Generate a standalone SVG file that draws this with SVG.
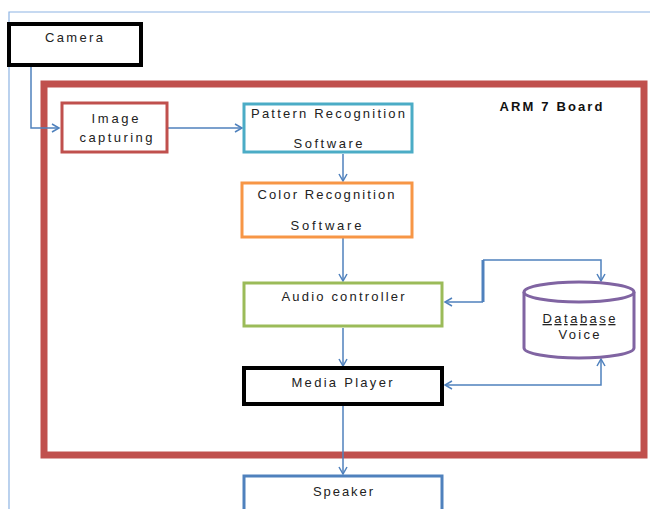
<svg xmlns="http://www.w3.org/2000/svg" width="650" height="509" viewBox="0 0 650 509">
<defs>
<marker id="arr" markerWidth="10" markerHeight="10" refX="8" refY="5" orient="auto" markerUnits="userSpaceOnUse">
<path d="M1,1 L8,5 L1,9" fill="none" stroke="#4F81BD" stroke-width="1.5"/>
</marker>
<marker id="arrs" markerWidth="10" markerHeight="10" refX="2" refY="5" orient="auto" markerUnits="userSpaceOnUse">
<path d="M9,1 L2,5 L9,9" fill="none" stroke="#4F81BD" stroke-width="1.5"/>
</marker>
</defs>
<style>
text{font-family:"Liberation Sans",Arial,sans-serif;font-size:13px;fill:#222;text-anchor:middle}
.b{font-weight:bold;fill:#111}
.c{fill:none;stroke:#4F81BD;stroke-width:1.5}
.box{fill:#fff}
</style>
<rect width="650" height="509" fill="#fff"/>
<g id="frame">
<path d="M9,509 L9,12 L650,12" fill="none" stroke="#8EB4E3" stroke-width="1.2"/>
</g>
<g id="board">
<rect x="44" y="84" width="600" height="371" fill="none" stroke="#C0504D" stroke-width="7"/>
<text class="b" x="551" y="111" textLength="103" lengthAdjust="spacing">ARM 7 Board</text>
</g>
<g id="connectors">
<path class="c" d="M31,67 L31,128 L59,128" marker-end="url(#arr)"/>
<path class="c" d="M168,128 L242,128" marker-end="url(#arr)"/>
<path class="c" d="M343,154 L343,181" marker-end="url(#arr)"/>
<path class="c" d="M343,238 L343,281" marker-end="url(#arr)"/>
<path class="c" d="M343,328 L343,366" marker-end="url(#arr)"/>
<path class="c" d="M343,406 L343,474" marker-end="url(#arr)"/>
<path class="c" d="M483,302 L445,302" marker-end="url(#arr)"/>
<path d="M483,302 L483,260" fill="none" stroke="#4F81BD" stroke-width="3"/>
<path class="c" d="M483,260 L601,260 L601,281" marker-end="url(#arr)"/>
<path class="c" d="M445,385 L601,385 L601,359" marker-start="url(#arrs)" marker-end="url(#arr)"/>
</g>
<g id="camera">
<rect class="box" x="9" y="24" width="132" height="41" stroke="#000" stroke-width="4"/>
<text x="74" y="42" textLength="58" lengthAdjust="spacing">Camera</text>
</g>
<g id="image-capturing">
<rect class="box" x="62" y="103" width="105" height="49" stroke="#C0504D" stroke-width="3"/>
<text x="115" y="123" textLength="47" lengthAdjust="spacing">Image</text>
<text x="116" y="142" textLength="73" lengthAdjust="spacing">capturing</text>
</g>
<g id="pattern">
<rect class="box" x="244" y="104" width="168" height="48" stroke="#4BACC6" stroke-width="3"/>
<text x="328" y="118" textLength="154" lengthAdjust="spacing">Pattern Recognition</text>
<text x="328" y="148" textLength="69" lengthAdjust="spacing">Software</text>
</g>
<g id="color">
<rect class="box" x="242" y="183" width="170" height="54" stroke="#F79646" stroke-width="3"/>
<text x="326" y="199" textLength="137" lengthAdjust="spacing">Color Recognition</text>
<text x="326" y="230" textLength="71" lengthAdjust="spacing">Software</text>
</g>
<g id="audio">
<rect class="box" x="244" y="283" width="198" height="43" stroke="#9BBB59" stroke-width="3"/>
<text x="343" y="301" textLength="123" lengthAdjust="spacing">Audio controller</text>
</g>
<g id="media">
<rect class="box" x="244" y="368" width="198" height="36" stroke="#000" stroke-width="4"/>
<text x="342" y="387" textLength="101" lengthAdjust="spacing">Media Player</text>
</g>
<g id="speaker">
<rect class="box" x="244" y="476" width="198" height="40" stroke="#4F81BD" stroke-width="3"/>
<text x="343" y="496" textLength="60" lengthAdjust="spacing">Speaker</text>
</g>
<g id="database">
<path d="M524,292 L524,348 A55,10 0 0 0 634,348 L634,292" fill="#fff" stroke="#8064A2" stroke-width="3"/>
<ellipse cx="579" cy="292" rx="55" ry="10" fill="#fff" stroke="#8064A2" stroke-width="3"/>
<text x="579" y="323" textLength="73" lengthAdjust="spacing" text-decoration="underline">Database</text>
<text x="579" y="339" textLength="41" lengthAdjust="spacing">Voice</text>
</g>
</svg>
